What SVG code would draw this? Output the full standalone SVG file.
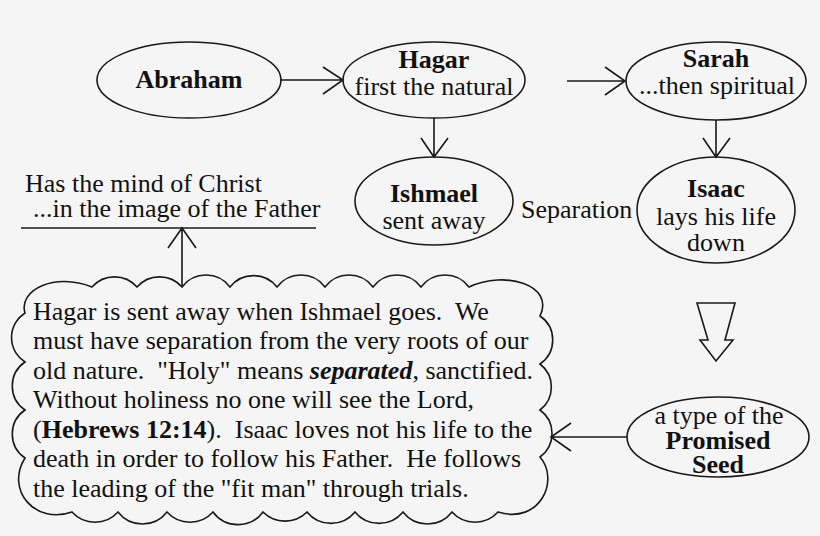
<svg xmlns="http://www.w3.org/2000/svg" width="820" height="536" viewBox="0 0 820 536">
<style>
  .bg { fill: #f5f5f5; }
  .shape { fill: none; stroke: #1a1a1a; stroke-width: 1.6; }
  .line { fill: none; stroke: #1a1a1a; stroke-width: 1.6; }
  .t { font-family: 'Liberation Serif', 'DejaVu Serif', serif; font-size: 26px; fill: #111; }
  .c { text-anchor: middle; }
  .b { font-weight: bold; }
  .bi { font-weight: bold; font-style: italic; }
</style>
<rect class="bg" x="0" y="0" width="820" height="536"/>

<g id="connectors">
  <path class="line" d="M280,80 H343 M323,67 L343,80 L323,94"/>
  <path class="line" d="M567,81 H625 M605,67 L625,81 L605,95"/>
  <path class="line" d="M434,118 V157 M421,138 L434,157 L448,138"/>
  <path class="line" d="M716,120 V157 M703,138 L716,157 L730,138"/>
  <path class="line" d="M627,437 H551 M571,423 L551,437 L571,451"/>
  <path class="line" d="M182,287 V228 M168,248 L182,228 L196,248"/>
  <path class="line" d="M21,228 H316"/>
  <polygon class="shape" points="697,303 735,303 725,340 733,340 716,361 700,340 708,340"/>
</g>

<g id="abraham">
  <ellipse class="shape" cx="189" cy="80" rx="92" ry="38"/>
  <text class="t c b" font-family="Liberation Serif, DejaVu Serif, serif" x="189" y="88">Abraham</text>
</g>

<g id="hagar">
  <ellipse class="shape" cx="434" cy="80" rx="91" ry="38"/>
  <text class="t c b" x="434" y="68">Hagar</text>
  <text class="t c" x="434" y="95">first the natural</text>
</g>

<g id="sarah">
  <ellipse class="shape" cx="716" cy="81" rx="90" ry="39"/>
  <text class="t c b" x="716" y="67">Sarah</text>
  <text class="t c" x="717" y="94">...then spiritual</text>
</g>

<g id="ishmael">
  <ellipse class="shape" cx="434" cy="201" rx="79" ry="44"/>
  <text class="t c b" x="434" y="202">Ishmael</text>
  <text class="t c" x="434" y="229">sent away</text>
</g>

<g id="separation">
  <text class="t" x="521" y="218">Separation</text>
</g>

<g id="isaac">
  <ellipse class="shape" cx="716" cy="210" rx="79" ry="53"/>
  <text class="t c b" x="716" y="197">Isaac</text>
  <text class="t c" x="716" y="225">lays his life</text>
  <text class="t c" x="716" y="251">down</text>
</g>

<g id="mind">
  <text class="t" x="25" y="192">Has the mind of Christ</text>
  <text class="t" x="33" y="217">...in the image of the Father</text>
</g>

<g id="promised-seed">
  <ellipse class="shape" cx="718" cy="437" rx="91" ry="40"/>
  <text class="t c" x="719" y="424">a type of the</text>
  <text class="t c b" x="718" y="449">Promised</text>
  <text class="t c b" x="718" y="473">Seed</text>
</g>

<g id="cloud">
  <path class="shape" d="M25,313 C18,290 55,272 92,287 A30,30 0 0 1 137,287 A30,30 0 0 1 182,287 A30,30 0 0 1 230,287 A30,30 0 0 1 277,287 A30,30 0 0 1 325,287 A30,30 0 0 1 373,287 A30,30 0 0 1 421,287 A30,30 0 0 1 469,287 C505,270 555,285 540,316 A29,29 0 0 1 540,364 A29,29 0 0 1 540,410 A29,29 0 0 1 540,457 C560,480 540,525 498,512 A31,31 0 0 1 452,512 A31,31 0 0 1 403,512 A31,31 0 0 1 355,512 A31,31 0 0 1 307,512 A31,31 0 0 1 263,512 A31,31 0 0 1 213,512 A31,31 0 0 1 167,512 A31,31 0 0 1 118,512 A31,31 0 0 1 72,512 C35,525 5,490 25,458 A29,29 0 0 1 25,410 A29,29 0 0 1 25,362 A29,29 0 0 1 25,313 Z"/>
  <text class="t" xml:space="preserve" x="33" y="320">Hagar is sent away when Ishmael goes.  We</text>
  <text class="t" xml:space="preserve" x="33" y="349">must have separation from the very roots of our</text>
  <text class="t" xml:space="preserve" x="33" y="379">old nature.  "Holy" means <tspan class="bi">separated</tspan>, sanctified.</text>
  <text class="t" xml:space="preserve" x="33" y="408">Without holiness no one will see the Lord,</text>
  <text class="t" xml:space="preserve" x="33" y="438">(<tspan class="b">Hebrews 12:14</tspan>).  Isaac loves not his life to the</text>
  <text class="t" xml:space="preserve" x="33" y="467">death in order to follow his Father.  He follows</text>
  <text class="t" xml:space="preserve" x="33" y="497">the leading of the "fit man" through trials.</text>
</g>
</svg>
